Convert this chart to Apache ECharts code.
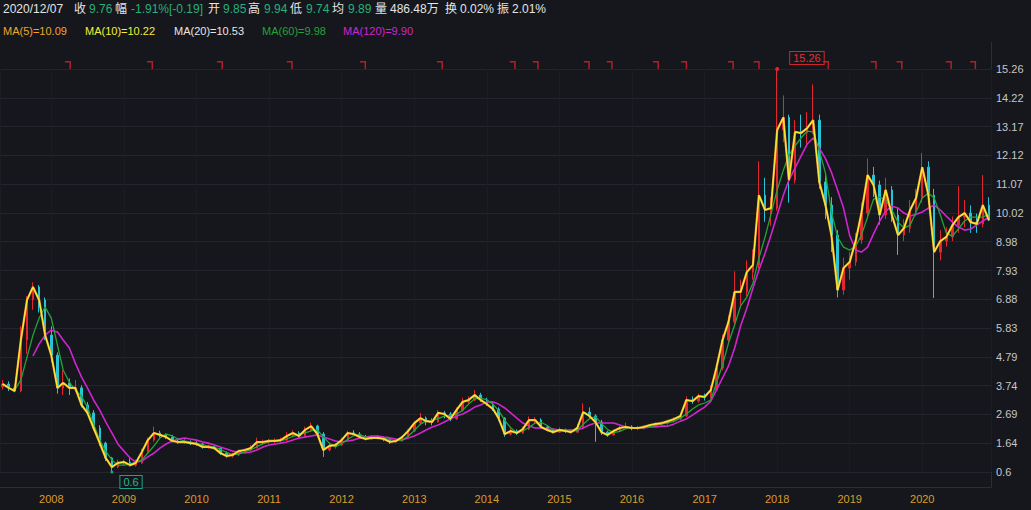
<!DOCTYPE html>
<html><head><meta charset="utf-8">
<script src="https://cdn.jsdelivr.net/npm/echarts@6/dist/echarts.min.js"></script>
<style>html,body{margin:0;padding:0;background:#15171c;}#c{width:1031px;height:510px;}</style>
</head><body><div id="c"></div>
<script>
// ---------- data ----------
const months = [
'2007-05','2007-06','2007-07','2007-08','2007-09','2007-10','2007-11','2007-12',
'2008-01','2008-02','2008-03','2008-04','2008-05','2008-06','2008-07','2008-08','2008-09','2008-10','2008-11','2008-12',
'2009-01','2009-02','2009-03','2009-04','2009-05','2009-06','2009-07','2009-08','2009-09','2009-10','2009-11','2009-12',
'2010-01','2010-02','2010-03','2010-04','2010-05','2010-06','2010-07','2010-08','2010-09','2010-10','2010-11','2010-12',
'2011-01','2011-02','2011-03','2011-04','2011-05','2011-06','2011-07','2011-08','2011-09','2011-10','2011-11','2011-12',
'2012-01','2012-02','2012-03','2012-04','2012-05','2012-06','2012-07','2012-08','2012-09','2012-10','2012-11','2012-12',
'2013-01','2013-02','2013-03','2013-04','2013-05','2013-06','2013-07','2013-08','2013-09','2013-10','2013-11','2013-12',
'2014-01','2014-02','2014-03','2014-04','2014-05','2014-06','2014-07','2014-08','2014-09','2014-10','2014-11','2014-12',
'2015-01','2015-02','2015-03','2015-04','2015-05','2015-06','2015-07','2015-08','2015-09','2015-10','2015-11','2015-12',
'2016-01','2016-02','2016-03','2016-04','2016-05','2016-06','2016-07','2016-08','2016-09','2016-10','2016-11','2016-12',
'2017-01','2017-02','2017-03','2017-04','2017-05','2017-06','2017-07','2017-08','2017-09','2017-10','2017-11','2017-12',
'2018-01','2018-02','2018-03','2018-04','2018-05','2018-06','2018-07','2018-08','2018-09','2018-10','2018-11','2018-12',
'2019-01','2019-02','2019-03','2019-04','2019-05','2019-06','2019-07','2019-08','2019-09','2019-10','2019-11','2019-12',
'2020-01','2020-02','2020-03','2020-04','2020-05','2020-06','2020-07','2020-08','2020-09','2020-10','2020-11','2020-12'];

const opens = [
3.70,3.80,3.66,3.55,5.40,6.86,7.33,6.86,5.58,4.85,3.66,3.84,
3.66,3.66,3.04,2.75,2.20,1.65,1.11,0.78,0.93,0.96,0.85,0.93,
1.33,1.76,2.02,1.95,1.87,1.73,1.69,1.69,1.65,1.62,1.51,1.51,
1.47,1.29,1.18,1.22,1.36,1.40,1.47,1.69,1.69,1.73,1.73,1.76,
1.91,2.02,1.91,2.13,2.27,1.98,1.40,1.55,1.58,1.76,2.02,1.98,
1.87,1.80,1.84,1.84,1.80,1.69,1.73,1.87,2.09,2.38,2.56,2.45,
2.42,2.75,2.71,2.53,2.85,3.15,3.22,3.40,3.22,3.07,2.89,2.56,
1.98,2.09,2.02,2.16,2.49,2.49,2.24,2.13,2.05,2.13,2.09,2.05,
2.20,2.78,2.64,2.42,2.05,1.95,2.09,2.20,2.24,2.20,2.20,2.24,
2.31,2.35,2.38,2.45,2.53,2.64,3.22,3.18,3.36,3.33,3.58,4.38,
5.40,6.06,7.15,7.15,7.87,8.13,10.67,10.13,10.20,13.04,13.50,11.22,
12.97,12.93,13.11,13.40,11.15,10.31,9.22,7.22,8.02,8.24,9.04,10.02,
11.40,11.04,9.95,10.86,9.95,9.22,9.47,10.13,10.57,11.69,10.67,8.60,
9.00,9.15,9.58,9.87,10.02,9.69,9.62,10.31];

const closes = [
3.80,3.66,3.55,5.40,6.86,7.33,6.86,5.58,4.85,3.66,3.84,3.66,
3.66,3.04,2.75,2.20,1.65,1.11,0.78,0.93,0.96,0.85,0.93,1.33,
1.76,2.02,1.95,1.87,1.73,1.69,1.69,1.65,1.62,1.51,1.51,1.47,
1.29,1.18,1.22,1.36,1.40,1.47,1.69,1.69,1.73,1.73,1.76,1.91,
2.02,1.91,2.13,2.27,1.98,1.40,1.55,1.58,1.76,2.02,1.98,1.87,
1.80,1.84,1.84,1.80,1.69,1.73,1.87,2.09,2.38,2.56,2.45,2.42,
2.75,2.71,2.53,2.85,3.15,3.22,3.40,3.22,3.07,2.89,2.56,1.98,
2.09,2.02,2.16,2.49,2.49,2.24,2.13,2.05,2.13,2.09,2.05,2.20,
2.78,2.64,2.42,2.05,1.95,2.09,2.20,2.24,2.20,2.20,2.24,2.31,
2.35,2.38,2.45,2.53,2.64,3.22,3.18,3.36,3.33,3.58,4.38,5.40,
6.06,7.15,7.15,7.87,8.13,10.67,10.13,10.20,13.04,13.50,11.22,12.97,
12.93,13.11,13.40,11.15,10.31,9.22,7.22,8.02,8.24,9.04,10.02,11.40,
11.04,9.95,10.86,9.95,9.22,9.47,10.13,10.57,11.69,10.67,8.60,9.00,
9.15,9.58,9.87,10.02,9.69,9.62,10.31,9.76];

const highs = [
3.95,3.90,3.75,5.90,7.00,7.50,7.40,6.95,5.90,4.95,4.30,4.00,
3.95,3.75,3.15,2.85,2.30,1.70,1.15,1.05,1.05,1.10,1.05,1.45,
1.85,2.25,2.10,2.00,1.95,1.80,1.80,1.75,1.72,1.65,1.60,1.58,
1.50,1.35,1.30,1.42,1.45,1.58,1.85,1.78,1.80,1.82,1.85,2.05,
2.12,2.08,2.25,2.40,2.32,2.05,1.68,1.65,1.85,2.10,2.12,2.05,
1.95,1.92,1.95,1.90,1.85,1.80,1.92,2.15,2.45,2.75,2.62,2.55,
2.85,2.82,2.78,2.95,3.30,3.35,3.58,3.48,3.30,3.15,2.95,2.60,
2.20,2.15,2.25,2.62,2.60,2.55,2.30,2.20,2.22,2.18,2.15,2.35,
3.10,2.95,2.70,2.50,2.10,2.15,2.28,2.40,2.30,2.28,2.30,2.35,
2.40,2.45,2.50,2.60,2.75,3.35,3.35,3.45,3.45,3.75,4.55,5.60,
6.30,7.90,7.60,8.30,8.70,11.90,11.30,10.60,15.26,14.30,13.60,13.40,
13.60,13.70,14.70,13.60,11.50,10.60,9.40,8.40,8.60,9.30,10.40,12.00,
11.70,11.20,11.30,11.00,10.20,9.80,10.50,10.90,12.20,11.90,10.90,9.40,
9.50,9.90,11.00,10.50,10.30,10.00,11.40,10.60];

const lows = [
3.60,3.55,3.50,3.50,4.90,6.50,6.40,5.40,4.60,3.45,3.40,3.40,
3.50,2.95,2.70,2.10,1.55,1.00,0.60,0.74,0.85,0.80,0.80,0.90,
1.30,1.70,1.85,1.80,1.68,1.62,1.62,1.58,1.55,1.45,1.45,1.40,
1.22,1.12,1.12,1.18,1.30,1.35,1.45,1.58,1.62,1.65,1.68,1.72,
1.85,1.82,1.88,2.05,1.90,1.15,1.35,1.45,1.55,1.72,1.92,1.82,
1.75,1.76,1.78,1.72,1.62,1.65,1.70,1.85,2.05,2.30,2.30,2.30,
2.40,2.55,2.45,2.50,2.80,3.05,3.18,3.15,3.00,2.82,2.45,1.88,
1.92,1.95,1.98,2.12,2.38,2.18,2.08,2.00,2.02,2.02,2.00,2.02,
2.18,2.55,1.70,1.95,1.88,1.92,2.05,2.15,2.12,2.12,2.15,2.20,
2.25,2.28,2.32,2.40,2.48,2.60,3.08,3.12,3.20,3.28,3.55,4.30,
5.30,5.95,6.60,7.00,7.60,8.00,9.70,9.55,10.10,12.60,10.40,11.10,
12.40,12.50,12.90,10.90,9.80,8.60,6.95,7.05,7.60,8.10,8.90,9.90,
10.60,9.60,9.80,9.70,8.50,9.00,9.30,9.90,10.40,10.40,6.93,8.30,
8.80,9.00,9.30,9.50,9.30,9.30,9.50,9.74];

const ma60 = [
null,null,3.58,3.95,4.78,5.58,6.20,6.60,6.20,5.22,4.31,3.87,
3.58,3.36,2.96,2.35,1.76,1.36,1.04,0.85,0.85,0.89,0.96,1.04,
1.29,1.55,1.84,1.98,1.91,1.80,1.73,1.69,1.65,1.59,1.55,1.50,
1.42,1.31,1.23,1.25,1.33,1.41,1.52,1.62,1.70,1.72,1.74,1.80,
1.90,1.95,2.02,2.10,2.13,1.88,1.64,1.51,1.63,1.79,1.92,1.96,
1.88,1.84,1.83,1.83,1.78,1.74,1.76,1.90,2.11,2.34,2.46,2.48,
2.54,2.63,2.66,2.70,2.84,3.07,3.26,3.28,3.23,3.06,2.84,2.48,
2.21,2.03,2.09,2.22,2.38,2.41,2.29,2.14,2.10,2.09,2.09,2.11,
2.34,2.54,2.61,2.37,2.14,2.03,2.08,2.18,2.21,2.21,2.21,2.25,
2.30,2.35,2.39,2.45,2.56,2.71,2.89,3.04,3.11,3.22,3.84,4.49,
5.29,5.95,6.64,6.96,7.47,8.38,9.15,9.98,10.86,11.58,12.13,12.46,
12.75,13.00,12.97,12.31,11.47,10.06,9.15,8.78,8.67,8.82,9.22,9.87,
10.53,10.60,10.49,10.13,9.69,9.47,9.58,10.06,10.57,10.75,10.57,9.95,
9.29,9.18,9.44,9.73,9.87,9.87,9.87,9.98];

const ma120 = [
null,null,null,null,null,4.82,5.26,5.58,5.76,5.69,5.40,5.11,
4.56,4.06,3.66,3.22,2.85,2.42,2.02,1.62,1.36,1.11,0.96,1.00,
1.15,1.29,1.47,1.62,1.73,1.80,1.84,1.80,1.76,1.69,1.65,1.58,
1.51,1.44,1.36,1.33,1.29,1.33,1.40,1.51,1.58,1.62,1.65,1.69,
1.76,1.84,1.87,1.91,1.95,1.87,1.80,1.73,1.69,1.73,1.76,1.84,
1.87,1.91,1.91,1.87,1.84,1.80,1.76,1.84,1.91,2.02,2.13,2.24,
2.31,2.42,2.53,2.64,2.71,2.82,2.96,3.04,3.15,3.15,3.07,2.93,
2.75,2.56,2.38,2.27,2.20,2.20,2.16,2.16,2.13,2.13,2.13,2.13,
2.20,2.31,2.38,2.38,2.38,2.38,2.31,2.24,2.20,2.20,2.20,2.24,
2.24,2.27,2.27,2.35,2.45,2.53,2.67,2.82,2.96,3.18,3.58,4.02,
4.46,5.11,5.91,6.56,7.29,7.95,8.56,9.22,9.95,10.67,11.22,11.66,
12.09,12.53,12.75,12.38,12.00,11.50,10.85,10.20,9.20,8.67,8.60,8.78,
9.26,9.73,10.09,10.27,10.20,10.02,9.91,9.98,10.06,10.20,10.31,10.13,
9.91,9.69,9.51,9.40,9.44,9.58,9.73,9.87];

const markerDates = ['2008-03-25','2009-05-12','2010-04-29','2011-04-15','2012-04-18','2013-05-10',
'2014-05-11','2014-09-04','2015-05-19','2015-09-11','2016-05-01','2016-09-20','2017-05-13','2017-09-20',
'2018-09-04','2019-05-02','2019-09-09','2020-05-14','2020-09-13'];

const yLabels = ['0.6','1.64','2.69','3.74','4.79','5.83','6.88','7.93','8.98','10.02','11.07','12.12','13.17','14.22','15.26'];

const headerTexts = ['2020/12/07','收','9.76','幅','-1.91%[-0.19]','开','9.85','高','9.94','低','9.74','均','9.89','量','486.48万','换','0.02%','振','2.01%'];
const headerKinds = ['w','w','g','w','g','w','g','w','g','w','g','w','g','w','w','w','w','w','w'];
const maTexts = ['MA(5)=10.09','MA(10)=10.22','MA(20)=10.53','MA(60)=9.98','MA(120)=9.90'];

// ---------- layout / style ----------
const headerX = [3,74,89,115,131,208,223,248,264,290,306,332,348,375,390,445,460,497,512];
const maX = [3,85,174,262,343];
const maColors = ['#f2a52a','#f4ee3a','#e6e6e6','#22a437','#cf25cf'];
const C = {bg:'#15171c', white:'#e4e4e4', green:'#27b07a', up:'#e3262f', down:'#27c3d6', grid:'#22252c', ylab:'#c6c6c6', xlab:'#dc9b2c'};
const FONT = '"Liberation Sans","Noto Sans CJK SC",sans-serif';

const yMin = 0.6, yMax = 15.26, yStep = (yMax - yMin) / 14;
const day = 24*3600*1000, year = 365*day;

const dates = months.map(m => m + '-01');
const kData = dates.map((d,i) => [d, opens[i], closes[i], lows[i], highs[i]]);
const pair = arr => dates.map((d,i) => [d, arr[i]]);

const graphics = [];
headerTexts.forEach((t,i) => graphics.push({type:'text', x:headerX[i], y:9,
  style:{text:t, fill: headerKinds[i]==='g' ? C.green : C.white, font:'12px '+FONT, verticalAlign:'middle'}}));
maTexts.forEach((t,i) => graphics.push({type:'text', x:maX[i], y:31,
  style:{text:t, fill: maColors[i], font:'11px '+FONT, verticalAlign:'middle'}}));
graphics.push({type:'line', shape:{x1:991.5,y1:42,x2:991.5,y2:487.5}, style:{stroke:'#2b2e35', lineWidth:1}, silent:true});
graphics.push({type:'line', shape:{x1:0,y1:487.5,x2:991.5,y2:487.5}, style:{stroke:'#2b2e35', lineWidth:1}, silent:true});

const chart = echarts.init(document.getElementById('c'), null, {renderer:'svg'});
chart.setOption({
  backgroundColor: C.bg,
  animation: false,
  graphic: graphics,
  grid: {left:0, right:40, top:69, bottom:38, containLabel:false},
  xAxis: {
    type:'time', min:'2007-04-18', max:'2020-12-12',
    minInterval: year, maxInterval: year,
    axisLine:{show:false}, axisTick:{show:false},
    splitLine:{show:true, lineStyle:{color:'#1a1d22'}},
    axisLabel:{color:C.xlab, fontSize:11, fontFamily:FONT, margin:21, hideOverlap:false,
      formatter: v => { const d = new Date(v); return (d.getMonth()===0 && d.getDate()===1) ? String(d.getFullYear()) : ''; }}
  },
  yAxis: {
    type:'value', position:'right', min:yMin, max:yMax, interval:yStep, scale:true,
    axisLine:{show:false}, axisTick:{show:false},
    splitLine:{lineStyle:{color:C.grid}},
    axisLabel:{color:C.ylab, fontSize:11, fontFamily:FONT, margin:5, showMinLabel:true, showMaxLabel:true,
      formatter: v => { const k = Math.round((v - yMin)/yStep); return yLabels[k] !== undefined ? yLabels[k] : ''; }}
  },
  series: [
    {type:'candlestick', name:'K', data:kData, barWidth:2,
     itemStyle:{color:C.up, color0:C.down, borderColor:C.up, borderColor0:C.down, borderWidth:1},
     markPoint:{
       symbol:'circle', symbolSize:4, silent:true,
       data:[
         {type:'max', valueDim:'highest', itemStyle:{color:C.up},
          label:{show:true, position:'right', offset:[6,-11], formatter:p=>String(p.value), color:'#e0303a',
                 fontSize:11, fontFamily:FONT, backgroundColor:C.bg, borderColor:'#d0242d', borderWidth:1, padding:[1,3,0,3]}},
         {type:'min', valueDim:'lowest', itemStyle:{color:'#1aa386'}, symbolSize:3,
          label:{show:true, position:'right', offset:[2,10], formatter:p=>String(p.value), color:'#27b792',
                 fontSize:11, fontFamily:FONT, backgroundColor:C.bg, borderColor:'#1aa386', borderWidth:1, padding:[1,3,0,3]}}
       ]}},
    {type:'line', name:'MA120', data:pair(ma120), showSymbol:false, lineStyle:{color:maColors[4], width:1.6}, z:3},
    {type:'line', name:'MA60', data:pair(ma60), showSymbol:false, lineStyle:{color:maColors[3], width:1.3}, z:3},
    {type:'line', name:'MA5', data:pair(closes), showSymbol:false, lineStyle:{color:maColors[0], width:2.2}, z:4},
    {type:'line', name:'MA10', data:pair(closes), showSymbol:false, lineStyle:{color:maColors[1], width:1.1}, z:4},
    {type:'scatter', name:'marks', data:markerDates.map(d => [d, yMax]), clip:false, silent:true,
     symbol:'path://M0 0H6V8H4.5V1.5H0Z', symbolSize:[6,8], symbolOffset:[0,-4],
     itemStyle:{color:'#d8222c'}, z:6}
  ]
});
</script></body></html>
